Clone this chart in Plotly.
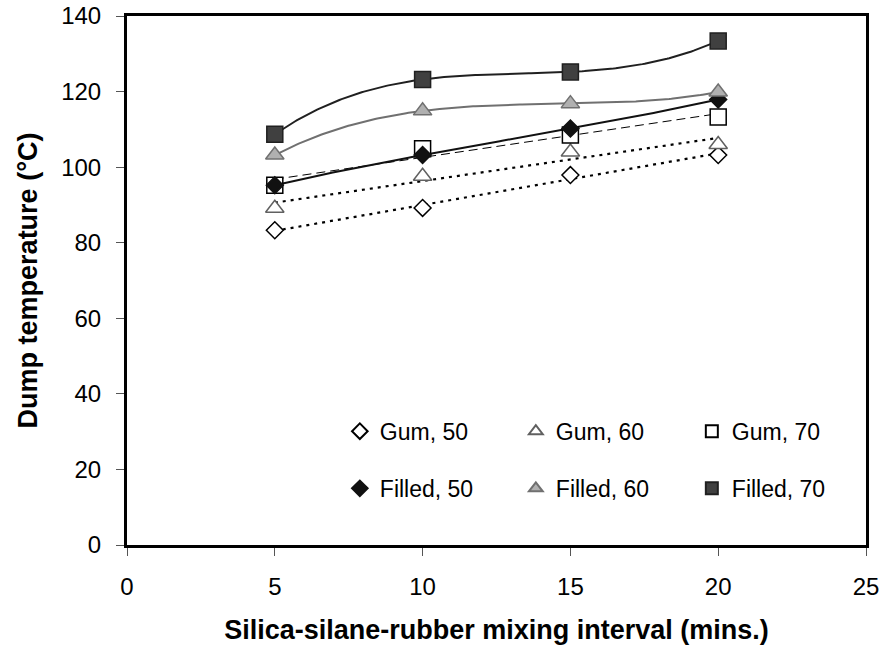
import numpy as np
import plotly.graph_objects as go

# Data
mix_interval = [5, 10, 15, 20]
gum_50 = [83.3, 89.2, 97.9, 103.2]
gum_60 = [89.1, 97.6, 104.0, 106.0]
gum_70 = [95.2, 104.9, 108.5, 113.3]
filled_50 = [95.2, 103.2, 110.2, 117.9]
filled_60 = [103.2, 114.9, 116.8, 119.9]
filled_70 = [108.7, 123.2, 125.2, 133.4]

x_ticks = [0, 5, 10, 15, 20, 25]
y_ticks = [0, 20, 40, 60, 80, 100, 120, 140]

FONT = "Liberation Sans, Arial, sans-serif"

series = [
    # name, values, trend degree, marker symbol, fill, outline, line color, dash, width, legend
    ("Gum, 50", gum_50, 1, "diamond", "white", "#000000", "#000000", "3px,5px", 2.2, "legend"),
    ("Gum, 60", gum_60, 1, "triangle-up", "white", "#606060", "#000000", "3px,5px", 2.2, "legend"),
    ("Gum, 70", gum_70, 1, "square", "white", "#000000", "#000000", "9px,5px", 1, "legend"),
    ("Filled, 50", filled_50, 3, "diamond", "#111111", "#111111", "#111111", "solid", 2, "legend2"),
    ("Filled, 60", filled_60, 3, "triangle-up", "#b0b0b0", "#707070", "#707070", "solid", 2, "legend2"),
    ("Filled, 70", filled_70, 3, "square", "#404040", "#202020", "#202020", "solid", 2, "legend2"),
]

sizes = {"diamond": 13, "triangle-up": 16, "square": 16}

fig = go.Figure()
xs = np.array(mix_interval, dtype=float)
xfine = np.linspace(xs.min(), xs.max(), 200)

# trend lines computed from the data
for name, vals, deg, sym, fill, outline, lc, dash, w, lg in series:
    coef = np.polyfit(xs, np.array(vals), deg)
    fig.add_trace(go.Scatter(
        x=xfine, y=np.polyval(coef, xfine), mode="lines",
        line=dict(color=lc, width=w, dash=dash),
        showlegend=False, hoverinfo="skip"))

for name, vals, deg, sym, fill, outline, lc, dash, w, lg in series:
    fig.add_trace(go.Scatter(
        x=mix_interval, y=vals, mode="markers", name=name, legend=lg,
        marker=dict(symbol=sym, size=sizes[sym], color=fill,
                    line=dict(color=outline, width=1.5))))

legend_common = dict(
    orientation="h", xanchor="left", yanchor="middle",
    font=dict(family=FONT, size=23, color="black"),
    bgcolor="rgba(0,0,0,0)", entrywidth=131, entrywidthmode="pixels",
    itemsizing="constant", tracegroupgap=0,
)

fig.update_layout(
    width=883, height=655,
    margin=dict(l=127, r=17, t=16, b=110, autoexpand=False),
    paper_bgcolor="white", plot_bgcolor="white",
    font=dict(family=FONT, color="black"),
    legend=dict(x=0.288, y=0.215, **legend_common),
    legend2=dict(x=0.288, y=0.107, **legend_common),
    xaxis=dict(
        range=[0, 25], tickvals=x_ticks, ticktext=[str(v) for v in x_ticks],
        showgrid=False, zeroline=False, showline=True, linewidth=3, linecolor="black",
        mirror=True, ticks="outside", ticklen=8, tickwidth=1, tickcolor="#555555",
        tickfont=dict(family=FONT, size=24), ticklabelstandoff=10, automargin=False,
        title=dict(text="<b>Silica-silane-rubber mixing interval (mins.)</b>",
                   font=dict(family=FONT, size=27), standoff=22),
    ),
    yaxis=dict(
        range=[0, 140], tickvals=y_ticks, ticktext=[str(v) for v in y_ticks],
        showgrid=False, zeroline=False, showline=True, linewidth=3, linecolor="black",
        mirror=True, ticks="outside", ticklen=8, tickwidth=1, tickcolor="#555555",
        tickfont=dict(family=FONT, size=24), ticklabelstandoff=10, automargin=False,
        title=dict(text="<b>Dump temperature (°C)</b>",
                   font=dict(family=FONT, size=27), standoff=16),
    ),
)

fig.write_html("out.html")
